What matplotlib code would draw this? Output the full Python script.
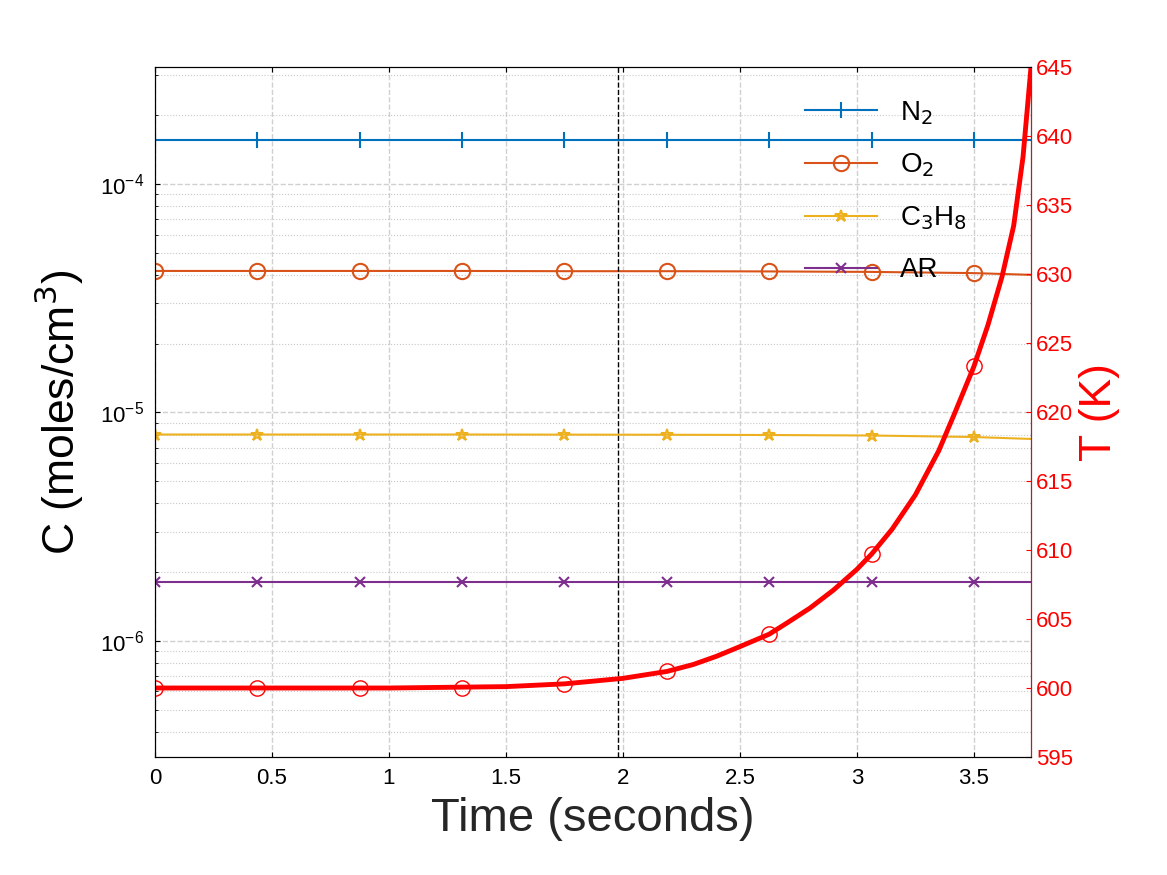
import numpy as np
import matplotlib.pyplot as plt

# time axis for species markers / lines
t_species = [0, 0.4375, 0.875, 1.3125, 1.75, 2.1875, 2.625, 3.0625, 3.5, 3.744]
c_n2 = [1.56e-4] * 10
c_o2 = [4.16e-5, 4.16e-5, 4.16e-5, 4.16e-5, 4.15e-5, 4.15e-5, 4.14e-5, 4.12e-5, 4.07e-5, 4.0e-5]
c_c3h8 = [8.0e-6, 8.0e-6, 8.0e-6, 8.0e-6, 7.99e-6, 7.98e-6, 7.96e-6, 7.92e-6, 7.8e-6, 7.65e-6]
c_ar = [1.81e-6] * 10

# temperature
t_temp = [0, 0.5, 1, 1.5, 1.75, 2, 2.1875, 2.3, 2.4, 2.5, 2.625, 2.7, 2.8, 2.9, 3.0,
          3.0625, 3.15, 3.25, 3.35, 3.42, 3.5, 3.56, 3.62, 3.67, 3.71, 3.744]
temp = [600, 600, 600, 600.1, 600.3, 600.7, 601.2, 601.7, 602.3, 603.0, 603.9, 604.7, 605.8,
        607.1, 608.6, 609.7, 611.5, 614.0, 617.2, 620.0, 623.3, 626.3, 629.8, 633.5, 638.5, 645]
t_temp_mk = [0, 0.4375, 0.875, 1.3125, 1.75, 2.1875, 2.625, 3.0625, 3.5]
temp_mk = [600, 600, 600, 600, 600.3, 601.2, 603.9, 609.7, 623.3]

plt.rcParams['font.family'] = ['Liberation Sans', 'DejaVu Sans']
fig = plt.figure(figsize=(11.67, 8.75), dpi=100)
ax = fig.add_axes([155/1167, 1-757/875, 876/1167, 690/875])

series = [
    (c_n2, '#0072BD', '|', r'N$_2$', 12),
    (c_o2, '#D95319', 'o', r'O$_2$', 11),
    (c_c3h8, '#EDB120', '*', r'C$_3$H$_8$', 9),
    (c_ar, '#7E2F8E', 'x', 'AR', 7),
]
for vals, col, mk, lab, ms in series:
    ax.plot(t_species, vals, color=col, lw=1.5, marker=mk, markevery=list(range(9)),
            ms=ms, mfc='none', mew=1.5, label=lab)

ax.set_yscale('log')
ax.set_ylim(3.1e-7, 3.25e-4)
ax.set_xlim(0, 3.744)
ax.set_xticks([0, 0.5, 1, 1.5, 2, 2.5, 3, 3.5])
ax.set_xticklabels(['0', '0.5', '1', '1.5', '2', '2.5', '3', '3.5'])
ax.axvline(1.98, color='black', ls='--', lw=1)
ax.grid(True, which='major', ls='--', color='#d0d0d0', lw=1)
ax.grid(True, which='minor', axis='y', ls=':', color='#c8c8c8', lw=0.8)
ax.tick_params(labelsize=16, direction='in', top=True, which='both', pad=8)
ax.set_xlabel('Time (seconds)', fontsize=34, color='#262626', labelpad=6)
ax.set_ylabel(r'C (moles/cm$^3$)', fontsize=32, labelpad=10)
ax.legend(loc='upper right', bbox_to_anchor=(0.955, 0.99), frameon=False, fontsize=20,
          handlelength=2.6, labelspacing=0.9)

ax2 = ax.twinx()
ax2.plot(t_temp, temp, color='red', lw=3.5)
ax2.plot(t_temp_mk, temp_mk, ls='none', marker='o', ms=11, mfc='none', mec='red', mew=1)
ax2.set_ylim(595, 645)
ax2.set_yticks(range(595, 646, 5))
ax2.tick_params(labelsize=16, colors='red', direction='in')
ax2.spines['right'].set_color('red')
ax2.set_ylabel('T (K)', fontsize=32, color='red')

fig.savefig('out.png', dpi=100)
